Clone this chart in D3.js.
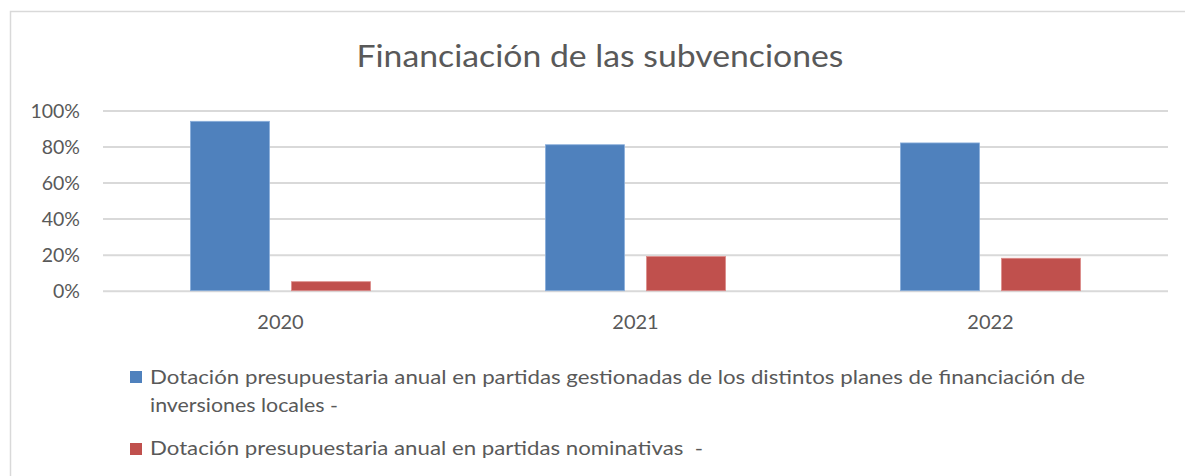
<!DOCTYPE html>
<html>
<head>
<meta charset="utf-8">
<script src="https://cdn.jsdelivr.net/npm/d3@7/dist/d3.min.js"></script>
<style>
  html, body { margin: 0; padding: 0; background: #fff; }
  svg { display: block; }
  text { font-family: Lato, "Open Sans", sans-serif; fill: #595959; }
</style>
</head>
<body>
<svg id="chart" width="1185" height="476"></svg>
<script>
const title = "Financiación de las subvenciones";
const categories = ["2020", "2021", "2022"];
const seriesNames = [
  "Dotación presupuestaria anual en partidas gestionadas de los distintos planes de financiación de inversiones locales -",
  "Dotación presupuestaria anual en partidas nominativas  -"
];
const legendLines1 = [
  "Dotación presupuestaria anual en partidas gestionadas de los distintos planes de financiación de",
  "inversiones locales -"
];
const legendLines2 = ["Dotación presupuestaria anual en partidas nominativas\u00A0\u00A0-"];
const seriesColors = ["#4f81bd", "#c0504d"];
const gestionadas = [0.94, 0.81, 0.82];
const nominativas = [0.05, 0.19, 0.18];
const yTicks = [0, 0.2, 0.4, 0.6, 0.8, 1.0];

const svg = d3.select("#chart");

// chart frame
svg.append("rect")
  .attr("x", 10.5).attr("y", 11.5)
  .attr("width", 1185).attr("height", 480)
  .attr("fill", "#fff").attr("stroke", "#d9d9d9").attr("stroke-width", 1.5);

const plot = { left: 103, right: 1168, top: 110.5, bottom: 290.7 };

const x0 = d3.scaleBand().domain(categories).range([plot.left, plot.right]).paddingInner(0).paddingOuter(0);
const x1 = d3.scaleBand().domain([0, 1]).range([0, x0.bandwidth()]).paddingInner(0.218).paddingOuter(0.865);
const y = d3.scaleLinear().domain([0, 1]).range([plot.bottom, plot.top]);

// title
svg.append("text")
  .attr("x", 600).attr("y", 67)
  .attr("text-anchor", "middle")
  .attr("font-size", 30.5)
  .attr("textLength", 487).attr("lengthAdjust", "spacingAndGlyphs")
  .text(title);

// gridlines + y labels
const yAxis = d3.axisLeft(y).tickValues(yTicks).tickSize(-(plot.right - plot.left)).tickFormat(d3.format(".0%"));
const gy = svg.append("g").attr("transform", `translate(${plot.left},0)`).call(yAxis);
gy.select(".domain").remove();
gy.selectAll(".tick line").attr("stroke", "#d9d9d9").attr("stroke-width", 2);
gy.selectAll(".tick text")
  .attr("x", -23).attr("dy", null).attr("y", 6.8)
  .attr("font-size", 19.5)
  .attr("font-family", "Lato, sans-serif")
  .attr("fill", "#595959");

// bars
const data = categories.map((c, i) => ({ cat: c, vals: [gestionadas[i], nominativas[i]] }));
const groups = svg.append("g").selectAll("g").data(data).join("g")
  .attr("transform", d => `translate(${x0(d.cat)},0)`);
groups.selectAll("rect").data(d => d.vals.map((v, k) => ({ v, k }))).join("rect")
  .attr("x", d => x1(d.k))
  .attr("width", x1.bandwidth())
  .attr("y", d => y(d.v))
  .attr("height", d => y(0) - y(d.v))
  .attr("fill", d => seriesColors[d.k])
  .attr("stroke", d => d.k === 0 ? "#8aaedb" : "#dc8c8a")
  .attr("stroke-width", 0.8);

// x axis labels
const xAxis = d3.axisBottom(x0).tickSize(0);
const gx = svg.append("g").attr("transform", `translate(0,${plot.bottom})`).call(xAxis);
gx.select(".domain").remove();
gx.selectAll(".tick text")
  .attr("y", 38.5).attr("dy", null)
  .attr("font-size", 20)
  .attr("font-family", "Lato, sans-serif")
  .attr("fill", "#595959");

// legend
const legend = svg.append("g");
legend.append("rect").attr("x", 130).attr("y", 371).attr("width", 12).attr("height", 12).attr("fill", seriesColors[0]);
legend.append("text").attr("x", 150).attr("y", 383.5).attr("font-size", 19)
  .attr("textLength", 935).attr("lengthAdjust", "spacingAndGlyphs").text(legendLines1[0]);
legend.append("text").attr("x", 150).attr("y", 411.5).attr("font-size", 19)
  .attr("textLength", 188).attr("lengthAdjust", "spacingAndGlyphs").text(legendLines1[1]);
legend.append("rect").attr("x", 130).attr("y", 443).attr("width", 12).attr("height", 12).attr("fill", seriesColors[1]);
legend.append("text").attr("x", 150).attr("y", 455).attr("font-size", 19)
  .attr("textLength", 553).attr("lengthAdjust", "spacingAndGlyphs").text(legendLines2[0]);
</script>
</body>
</html>
